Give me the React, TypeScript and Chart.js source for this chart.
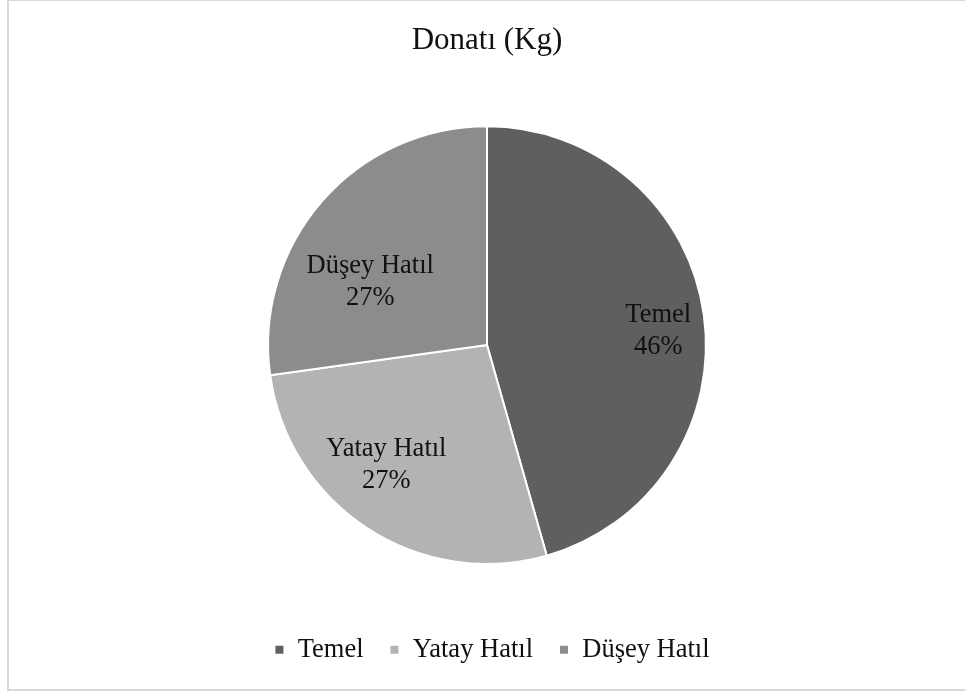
import React, { useEffect, useRef } from "react";
import { Chart, registerables } from "chart.js";

Chart.register(...registerables);

const titleText = "Donatı (Kg)";
const categories = ["Temel", "Yatay Hatıl", "Düşey Hatıl"];
const shares = [45.6, 27.2, 27.2];
const sliceColors = ["#5f5f5f", "#b3b3b3", "#8c8c8c"];
// label placement tweaks (fraction of radius, angle nudge in degrees)
const labelRadiusFrac = [0.785, 0.715, 0.607];
const labelAngleNudge = [3.2, 6.9, -12.5];

const FONT = "'Liberation Serif', 'Times New Roman', serif";

const sliceLabels = {
  id: "sliceLabels",
  afterDatasetsDraw(chart: any) {
    const ctx = chart.ctx;
    const meta = chart.getDatasetMeta(0);
    const data = chart.data.datasets[0].data as number[];
    const total = data.reduce((a, b) => a + b, 0);
    ctx.save();
    ctx.font = `26.5px ${FONT}`;
    ctx.fillStyle = "#111";
    ctx.textAlign = "center";
    ctx.textBaseline = "middle";
    meta.data.forEach((arc: any, i: number) => {
      const p = arc.getProps(["x", "y", "startAngle", "endAngle", "outerRadius"], true);
      const mid = (p.startAngle + p.endAngle) / 2 + (labelAngleNudge[i] * Math.PI) / 180;
      const r = p.outerRadius * labelRadiusFrac[i];
      const cx = p.x + Math.cos(mid) * r;
      const cy = p.y + Math.sin(mid) * r;
      const pct = Math.round((data[i] / total) * 100) + "%";
      ctx.fillText(chart.data.labels[i], cx, cy - 16);
      ctx.fillText(pct, cx, cy + 16);
    });
    ctx.restore();
  },
};

// nudge the legend row slightly to the right (box-to-text gap differs from the original)
const legendShift = {
  id: "legendShift",
  afterLayout(chart: any) {
    const lg = chart.legend;
    if (lg) {
      lg.left += 5;
      lg.right += 5;
    }
  },
};

export default function App() {
  const ref = useRef<HTMLCanvasElement>(null);
  useEffect(() => {
    if (!ref.current) return;
    const chart = new Chart(ref.current, {
      type: "pie",
      data: {
        labels: categories,
        datasets: [
          {
            data: shares,
            backgroundColor: sliceColors,
            borderColor: "#ffffff",
            borderWidth: 2,
          },
        ],
      },
      options: {
        responsive: false,
        animation: false,
        devicePixelRatio: 1,
        layout: { padding: { top: 0, bottom: 16, left: 0, right: 0 } },
        plugins: {
          title: {
            display: true,
            text: titleText,
            color: "#111",
            font: { family: FONT, size: 31, weight: "normal", lineHeight: 1.2 },
            padding: { top: 21, bottom: 66 },
          },
          subtitle: {
            display: true,
            position: "bottom",
            text: "",
            weight: 500,
            font: { size: 10, lineHeight: 1 },
            padding: { top: 0, bottom: 35.5 },
          },
          legend: {
            display: true,
            position: "bottom",
            weight: 1000,
            labels: {
              boxWidth: 10,
              boxHeight: 10,
              padding: 26,
              color: "#111",
              font: { family: FONT, size: 26.5 },
            },
          },
          tooltip: { enabled: false },
        },
      } as any,
      plugins: [sliceLabels, legendShift],
    });
    return () => chart.destroy();
  }, []);
  return (
    <div
      style={{
        position: "absolute",
        left: 7,
        top: 0,
        width: 958,
        height: 691,
        boxSizing: "border-box",
        borderTop: "1px solid #d9d9d9",
        borderLeft: "2px solid #d9d9d9",
        borderBottom: "2px solid #d9d9d9",
        background: "#fff",
      }}
    >
      <canvas ref={ref} width={956} height={688} style={{ display: "block", width: 956, height: 688 }} />
    </div>
  );
}
